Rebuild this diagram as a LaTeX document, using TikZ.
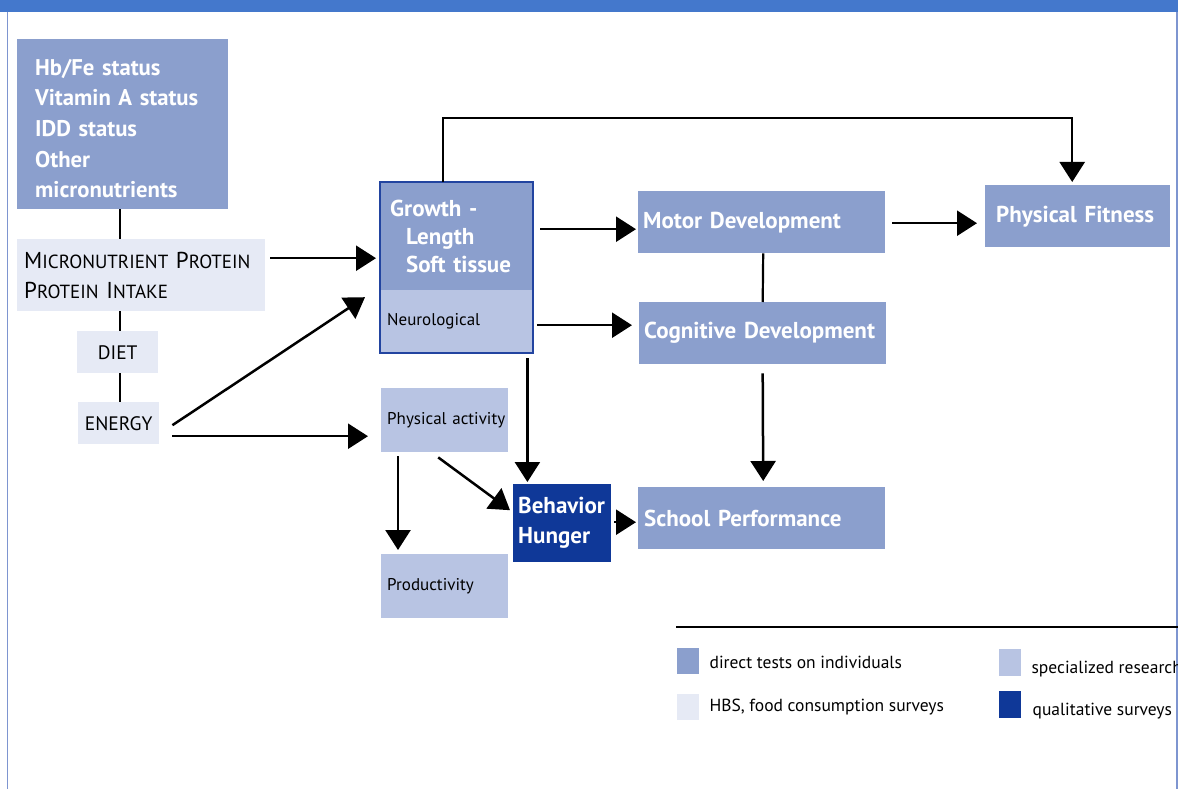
\documentclass[tikz,border=0pt]{standalone}
\usepackage{fontspec}
\setmainfont{PT Sans}
\usetikzlibrary{arrows.meta,calc}
\definecolor{midb}{HTML}{8B9FCD}
\definecolor{lightb}{HTML}{B8C4E3}
\definecolor{paleb}{HTML}{E6EAF5}
\definecolor{darkb}{HTML}{0F3898}
\definecolor{borderb}{HTML}{2244A0}
\definecolor{barb}{HTML}{4478CC}
\definecolor{frameb}{HTML}{7E95D0}
\newcommand\smcap[2]{#1{\fontsize{19}{30}\selectfont #2}}
\begin{document}
\begin{tikzpicture}[x=1pt,y=-1pt,
  bx/.style={rectangle, anchor=north west, inner ysep=0pt, align=left},
  wt/.style={text=white, font=\fontsize{23}{30}\selectfont\bfseries},
  bt/.style={text=black, font=\fontsize{17}{22}\selectfont},
  arr/.style={-{Triangle[length=20pt,width=25pt]}, line width=2.5pt},
  ln/.style={line width=2.2pt},
  lg/.style={rectangle, anchor=north west, inner sep=0pt, minimum width=22pt, minimum height=26pt},
  lt/.style={anchor=west, inner sep=0pt, font=\fontsize{17.5}{20}\selectfont}
]
\useasboundingbox (0,0) rectangle (1178,789);
% frame
\fill[barb] (0,0) rectangle (1178,12);
\draw[frameb, line width=1.5pt] (7.5,12) -- (7.5,789);
\draw[frameb, line width=1.5pt] (1177,12) -- (1177,789);

% nodes
\node[bx, fill=midb, wt, minimum width=211pt, minimum height=170pt, inner xsep=18pt, text width=175pt, font=\fontsize{22.7}{30.6}\selectfont\bfseries] (hb) at (17,39)
  {\rule{0pt}{25pt}Hb/Fe status\\Vitamin A status\\IDD status\\Other\\micronutrients};
\node[bx, fill=paleb, minimum width=248pt, minimum height=72pt, inner xsep=7pt, text width=234pt, font=\fontsize{23}{30}\selectfont] (micro) at (17,239)
  {\mbox{\smcap{M}{ICRONUTRIENT} \smcap{P}{ROTEIN}}\\\mbox{\smcap{P}{ROTEIN} \smcap{I}{NTAKE}}};
\node[bx, fill=paleb, minimum width=81pt, minimum height=42pt, inner xsep=0pt, text width=81pt, align=center, font=\fontsize{19.5}{20}\selectfont] (diet) at (77,331) {DIET};
\node[bx, fill=paleb, minimum width=81pt, minimum height=42pt, inner xsep=0pt, text width=81pt, align=center, font=\fontsize{19.5}{20}\selectfont] (energy) at (78,402) {ENERGY};

\node[bx, fill=midb, wt, minimum width=153pt, minimum height=108pt, inner xsep=10pt, text width=133pt, font=\fontsize{23}{28}\selectfont\bfseries] (growth) at (380,182)
  {Growth -\\\hspace*{16pt}Length\\\hspace*{16pt}Soft tissue};
\node[bx, fill=lightb, bt, minimum width=153pt, minimum height=63pt, inner xsep=7pt, text width=139pt] (neuro) at (380,290) {Neurological};
\draw[borderb, line width=2pt] (growth.north west) rectangle (neuro.south east);

\node[bx, fill=lightb, bt, minimum width=127pt, minimum height=64pt, inner xsep=6pt, text width=115pt] (physact) at (381,388) {\mbox{Physical activity}};
\node[bx, fill=lightb, bt, minimum width=127pt, minimum height=64pt, inner xsep=6pt, text width=115pt] (prod) at (381,554) {Productivity};
\node[bx, fill=darkb, wt, minimum width=98pt, minimum height=78pt, inner xsep=5pt, text width=88pt] (behavior) at (513,484) {Behavior\\Hunger};

\node[bx, fill=midb, wt, minimum width=247pt, minimum height=62pt, inner xsep=5pt, text width=237pt] (motor) at (638,191) {\raisebox{-3pt}{Motor Development}};
\node[bx, fill=midb, wt, minimum width=247pt, minimum height=62pt, inner xsep=5pt, text width=237pt] (cog) at (639,302) {\raisebox{-2pt}{Cognitive Development}};
\node[bx, fill=midb, wt, minimum width=247pt, minimum height=62pt, inner xsep=6pt, text width=235pt] (school) at (638,487) {\raisebox{-2pt}{School Performance}};
\node[bx, fill=midb, wt, minimum width=185pt, minimum height=62pt, inner xsep=11pt, text width=163pt] (fitness) at (985,185) {\raisebox{-2pt}{Physical Fitness}};

% plain links
\draw[ln] (hb.south) ++(-2.5,0) coordinate (hbs) -- (hbs |- micro.north);
\draw[ln] (micro.south) ++(-21,0) coordinate (ms) -- (ms |- diet.north);
\draw[ln] (diet.south) ++(2.5,0) coordinate (ds) -- (ds |- energy.north);
\draw[ln] ($(motor.south)+(1.5,0)$) -- (cog.north);

% arrows
\draw[arr] ($(micro.east)+(5,-17)$) -- ($(growth.west)+(-4,22)$);
\draw[arr] ($(energy.east)+(13,2)$) -- ($(neuro.west)+(-15,-24.5)$);
\draw[arr] ($(energy.east)+(13,13)$) -- ($(physact.west)+(-13,16)$);
\draw[arr] ($(growth.north)+(-13.5,0)$) -- ++(0,-64) -| ($(fitness.north)+(-5.5,-3)$);
\draw[arr] ($(growth.east)+(7,-7)$) -- ($(motor.west)+(-2,7)$);
\draw[arr] ($(neuro.east)+(4,3.5)$) -- ($(cog.west)+(-7,-8)$);
\draw[arr] ($(motor.east)+(7,1)$) -- ($(fitness.west)+(-8,7)$);
\draw[arr] ($(cog.south)+(0,9)$) -- ($(school.north)+(1.5,-6)$);
\draw[arr] ($(neuro.south east)+(-6,5)$) -- ($(neuro.south east |- behavior.north)+(-6,-2)$);
\draw[arr] ($(physact.south west)+(17,4)$) -- ($(prod.north west)+(17,-4)$);
\draw[arr] ($(physact.south)+(-6.5,5)$) -- ($(behavior.west)+(-3,-13)$);
\draw[arr] ($(behavior.east)+(3,-1)$) -- ($(school.west)+(-2,4)$);

% legend
\draw[line width=2.5pt] (676,627) -- (1178,627);
\node[lg, fill=midb] (sq1) at (677,648) {};
\node[lt] (t1) at ($(sq1.east)+(10,1)$) {direct tests on individuals};
\node[lg, fill=paleb] (sq2) at (677,694) {};
\node[lt] (t2) at ($(sq2.east)+(10,0)$) {HBS, food consumption surveys};
\node[lg, fill=lightb, minimum height=27pt] (sq3) at (999,649) {};
\node[lt] (t3) at ($(sq3.east)+(10,6)$) {specialized research};
\node[lg, fill=darkb, minimum height=27pt] (sq4) at (999,691) {};
\node[lt] (t4) at ($(sq4.east)+(11,6)$) {qualitative surveys};
\end{tikzpicture}
\end{document}
